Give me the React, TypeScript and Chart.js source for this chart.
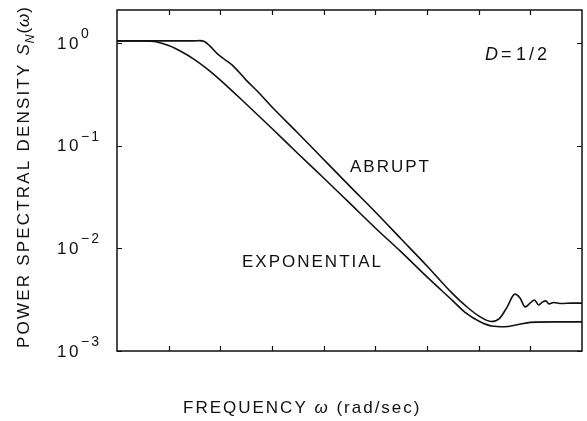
import React, { useEffect, useRef } from 'react';
import { Chart, registerables } from 'chart.js';

Chart.register(...registerables);

// Frequency axis positions (arbitrary linear units, 9 divisions) and spectral density values
const expX = [0, 0.5, 0.75, 1.0, 1.25, 1.5, 1.75, 2.0, 2.5, 3.0, 3.5, 4.0, 4.5, 5.0, 5.5, 6.0, 6.5, 6.75, 7.0, 7.25, 7.5, 7.75, 8.0, 8.5, 9.0];
const expY = [1.05, 1.048, 1.03, 0.945, 0.822, 0.691, 0.558, 0.436, 0.255, 0.147, 0.084, 0.0485, 0.0277, 0.0158, 0.00923, 0.00527, 0.00308, 0.00235, 0.00196, 0.00175, 0.00172, 0.0018, 0.0019, 0.00192, 0.00192];

const abrX = [0, 1.5, 1.6, 1.7, 1.8, 1.95, 2.1, 2.25, 2.5, 2.75, 3.0, 3.5, 4.0, 4.5, 5.0, 5.5, 6.0, 6.5, 6.75, 7.0, 7.25, 7.4, 7.55, 7.7, 7.8, 7.9, 8.0, 8.08, 8.16, 8.24, 8.3, 8.36, 8.45, 8.6, 8.8, 9.0];
const abrY = [1.05, 1.05, 1.056, 1.03, 0.935, 0.781, 0.683, 0.597, 0.436, 0.326, 0.238, 0.133, 0.0734, 0.0406, 0.0226, 0.01235, 0.00674, 0.0036, 0.00275, 0.0022, 0.00194, 0.00207, 0.00268, 0.00358, 0.00329, 0.00269, 0.00294, 0.00314, 0.00281, 0.00301, 0.00308, 0.00288, 0.00297, 0.0029, 0.00293, 0.00293];

const xTickValues = [1, 2, 3, 4, 5, 6, 7, 8];
const yTickValues = [1, 0.1, 0.01, 0.001];
const yTickExponents = ['0', '\u22121', '\u22122', '\u22123'];

const X_MIN = 0;
const X_MAX = 9;
const Y_MIN = 0.001;
const Y_MAX = 2.1;

const FONT = '"Liberation Sans", Arial, Helvetica, sans-serif';
const INK = '#111';

function drawSpaced(ctx: CanvasRenderingContext2D, text: string, x: number, y: number, font: string, spacing: number) {
  ctx.font = font;
  (ctx as any).letterSpacing = spacing + 'px';
  ctx.fillText(text, x, y);
  const w = ctx.measureText(text).width;
  (ctx as any).letterSpacing = '0px';
  return w;
}

const decorPlugin = {
  id: 'decor',
  afterDraw(chart: any) {
    const { ctx, chartArea: a, scales } = chart;
    const xs = scales.x;
    const ys = scales.y;
    ctx.save();
    ctx.strokeStyle = INK;
    ctx.fillStyle = INK;
    ctx.lineWidth = 1.5;
    ctx.strokeRect(a.left, a.top, a.right - a.left, a.bottom - a.top);

    // inward ticks
    ctx.lineWidth = 1.2;
    ctx.beginPath();
    xTickValues.forEach((v) => {
      const px = Math.round(xs.getPixelForValue(v)) + 0.5;
      ctx.moveTo(px, a.bottom);
      ctx.lineTo(px, a.bottom - 5);
      ctx.moveTo(px, a.top);
      ctx.lineTo(px, a.top + 5);
    });
    yTickValues.forEach((v) => {
      const py = Math.round(ys.getPixelForValue(v)) + 0.5;
      ctx.moveTo(a.left, py);
      ctx.lineTo(a.left + 5, py);
      ctx.moveTo(a.right, py);
      ctx.lineTo(a.right - 5, py);
    });
    ctx.stroke();

    // y tick labels 10^n
    ctx.textBaseline = 'alphabetic';
    ctx.textAlign = 'left';
    yTickValues.forEach((v, i) => {
      const py = ys.getPixelForValue(v);
      drawSpaced(ctx, '10', a.left - 60, py + 5.5, `17px ${FONT}`, 2.5);
      drawSpaced(ctx, yTickExponents[i], a.left - 36, py - 5, `14px ${FONT}`, 2);
    });

    // annotations
    drawSpaced(ctx, 'ABRUPT', 350, 172, `17px ${FONT}`, 2);
    drawSpaced(ctx, 'EXPONENTIAL', 242, 267, `17px ${FONT}`, 2);

    // D = 1/2
    drawSpaced(ctx, 'D', 485, 60, `italic 18px ${FONT}`, 0);
    drawSpaced(ctx, '=', 501, 60, `18px ${FONT}`, 0);
    drawSpaced(ctx, '1/2', 516, 60, `18px ${FONT}`, 3);

    // x title
    let x = 183;
    x += drawSpaced(ctx, 'FREQUENCY ', x, 413, `17px ${FONT}`, 2);
    x += drawSpaced(ctx, '\u03c9', x, 413, `italic 17px ${FONT}`, 2);
    drawSpaced(ctx, ' (rad/sec)', x, 413, `17px ${FONT}`, 2);

    // y title (rotated)
    ctx.save();
    ctx.translate(28.5, 348);
    ctx.rotate(-Math.PI / 2);
    let t = 0;
    t += drawSpaced(ctx, 'POWER SPECTRAL DENSITY ', t, 0, `17px ${FONT}`, 2.2);
    t += drawSpaced(ctx, 'S', t, 0, `italic 17px ${FONT}`, 1);
    t += drawSpaced(ctx, 'N', t, 5, `italic 12px ${FONT}`, 1);
    t += drawSpaced(ctx, '(', t, 0, `17px ${FONT}`, 1);
    t += drawSpaced(ctx, '\u03c9', t, 0, `italic 17px ${FONT}`, 1);
    drawSpaced(ctx, ')', t, 0, `17px ${FONT}`, 1);
    ctx.restore();

    ctx.restore();
  },
};

export default function App() {
  const canvasRef = useRef<HTMLCanvasElement | null>(null);

  useEffect(() => {
    const canvas = canvasRef.current;
    if (!canvas) return;
    const lineStyle = {
      borderColor: INK,
      borderWidth: 1.6,
      pointRadius: 0,
      fill: false,
      cubicInterpolationMode: 'monotone' as const,
    };
    const chart = new Chart(canvas, {
      type: 'line',
      data: {
        datasets: [
          { label: 'Exponential', data: expX.map((v, i) => ({ x: v, y: expY[i] })), ...lineStyle },
          { label: 'Abrupt', data: abrX.map((v, i) => ({ x: v, y: abrY[i] })), ...lineStyle },
        ],
      },
      options: {
        animation: false,
        responsive: false,
        devicePixelRatio: 1,
        layout: { padding: { top: 10, right: 5, left: 0, bottom: 0 } },
        plugins: { legend: { display: false }, tooltip: { enabled: false } },
        events: [],
        scales: {
          x: {
            type: 'linear',
            min: X_MIN,
            max: X_MAX,
            ticks: { display: false },
            grid: { display: false, drawTicks: false },
            border: { display: false },
            afterFit: (s: any) => {
              s.height = 70;
            },
          },
          y: {
            type: 'logarithmic',
            min: Y_MIN,
            max: Y_MAX,
            ticks: { display: false },
            grid: { display: false, drawTicks: false },
            border: { display: false },
            afterFit: (s: any) => {
              s.width = 117;
            },
          },
        },
      },
      plugins: [decorPlugin],
    });
    return () => chart.destroy();
  }, []);

  return (
    <div style={{ position: 'fixed', left: 0, top: 0, width: 587, height: 421, background: '#fff' }}>
      <canvas ref={canvasRef} width={587} height={421} style={{ display: 'block', width: 587, height: 421 }} />
    </div>
  );
}
